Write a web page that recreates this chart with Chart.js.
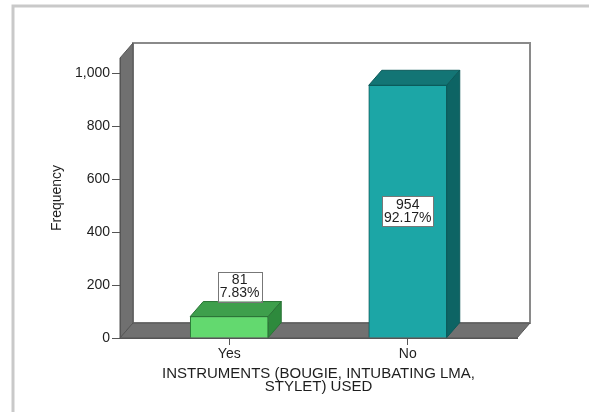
<!DOCTYPE html>
<html>
<head>
<meta charset="utf-8">
<script src="https://cdn.jsdelivr.net/npm/chart.js@4.4.1/dist/chart.umd.min.js"></script>
<style>
  html, body { margin: 0; padding: 0; background: #fff; }
  #wrap { position: relative; width: 589px; height: 412px; }
</style>
</head>
<body>
<div id="wrap"><canvas id="chart" width="589" height="412"></canvas></div>
<script>
const categories = ['Yes', 'No'];
const frequencies = [81, 954];
const yTicks = [0, 200, 400, 600, 800, 1000];

const frontColors = ['#63d96f', '#1ca6a6'];
const topColors = ['#3e9f4c', '#137575'];
const sideColors = ['#2e8a3d', '#0d6464'];
const edgeColors = ['#2a7436', '#0c5a5a'];

const total = frequencies.reduce((a, b) => a + b, 0);
const DX = 13, DY = 15;           // depth of the 3D extrusion
const FONT = '"Liberation Sans", Arial, sans-serif';
const TEXT = '#1e1e1e';

function poly(ctx, pts, fill, stroke) {
    ctx.beginPath();
    ctx.moveTo(pts[0][0], pts[0][1]);
    for (let i = 1; i < pts.length; i++) ctx.lineTo(pts[i][0], pts[i][1]);
    ctx.closePath();
    if (fill) { ctx.fillStyle = fill; ctx.fill(); }
    if (stroke) { ctx.strokeStyle = stroke; ctx.lineWidth = 1; ctx.stroke(); }
}

// frame, back wall, left wall and floor
const walls = {
    id: 'walls',
    beforeDraw(chart) {
        const { ctx, chartArea: a } = chart;
        ctx.save();
        ctx.strokeStyle = '#c9c9c9';
        ctx.lineWidth = 3;
        ctx.strokeRect(13, 6, 640, 460);

        ctx.fillStyle = '#fff';
        ctx.fillRect(a.left + DX, a.top - DY, a.width, a.height);
        ctx.strokeStyle = '#8a8a8a';
        ctx.lineWidth = 2;
        ctx.strokeRect(a.left + DX, a.top - DY, a.width, a.height);

        poly(ctx, [[a.left, a.top], [a.left + DX, a.top - DY], [a.left + DX, a.bottom - DY], [a.left, a.bottom]], '#707070', '#555');
        poly(ctx, [[a.left, a.bottom], [a.left + DX, a.bottom - DY], [a.right + DX, a.bottom - DY], [a.right, a.bottom]], '#717171', '#555');
        ctx.restore();
    }
};

// top and side faces of each bar, then the count / percent boxes
const bars3d = {
    id: 'bars3d',
    afterDatasetsDraw(chart) {
        const { ctx } = chart;
        const meta = chart.getDatasetMeta(0);
        ctx.save();
        meta.data.forEach((bar, i) => {
            const l = bar.x - bar.width / 2, r = bar.x + bar.width / 2;
            const t = bar.y, b = bar.base;
            poly(ctx, [[l, t], [l + DX, t - DY], [r + DX, t - DY], [r, t]], topColors[i], edgeColors[i]);
            poly(ctx, [[r, t], [r + DX, t - DY], [r + DX, b - DY], [r, b]], sideColors[i], edgeColors[i]);
        });

        ctx.font = '14px ' + FONT;
        ctx.textAlign = 'center';
        ctx.textBaseline = 'middle';
        const lineH = 13;
        meta.data.forEach((bar, i) => {
            const v = frequencies[i];
            const lines = [String(v), (v / total * 100).toFixed(2) + '%'];
            const w = Math.max(...lines.map(s => ctx.measureText(s).width)) + 4;
            const h = lines.length * lineH + 4;
            let cx = bar.x, cy = (bar.y + bar.base) / 2;
            if (bar.base - bar.y < h + 10) {
                cx = bar.x + DX * 0.8;
                cy = bar.y - DY - h / 2;
            }
            ctx.fillStyle = '#fff';
            ctx.fillRect(cx - w / 2, cy - h / 2, w, h);
            ctx.strokeStyle = '#777';
            ctx.lineWidth = 1;
            ctx.strokeRect(Math.round(cx - w / 2) + 0.5, Math.round(cy - h / 2) + 0.5, Math.round(w), Math.round(h));
            ctx.fillStyle = TEXT;
            lines.forEach((s, k) => ctx.fillText(s, cx, cy - h / 2 + 2.5 + lineH * (k + 0.5)));
        });
        ctx.restore();
    }
};

new Chart(document.getElementById('chart'), {
    type: 'bar',
    data: {
        datasets: [{
            data: frequencies.map((v, i) => ({ x: i, y: v })),
            backgroundColor: frontColors,
            borderColor: edgeColors,
            borderWidth: 1,
            barThickness: 78
        }]
    },
    options: {
        responsive: false,
        animation: false,
        locale: 'en-US',
        layout: { padding: { left: 12, top: 58, right: 72, bottom: 0 } },
        plugins: { legend: { display: false }, tooltip: { enabled: false } },
        scales: {
            x: {
                type: 'linear',
                min: -0.612,
                max: 1.612,
                offset: false,
                afterBuildTicks: s => { s.ticks = categories.map((_, i) => ({ value: i })); },
                afterFit: s => { s.height = 74; },
                ticks: {
                    callback: v => categories[v],
                    color: TEXT,
                    font: { family: FONT, size: 14 },
                    padding: 1
                },
                grid: { offset: false, drawOnChartArea: false, tickLength: 7, color: '#555' },
                border: { color: '#555' },
                title: {
                    display: true,
                    text: ['INSTRUMENTS (BOUGIE, INTUBATING LMA,', 'STYLET) USED'],
                    color: TEXT,
                    font: { family: FONT, size: 15, lineHeight: 0.9 },
                    padding: { top: 0, bottom: 18 }
                }
            },
            y: {
                min: 0,
                max: 1057,
                afterBuildTicks: s => { s.ticks = yTicks.map(v => ({ value: v })); },
                afterFit: s => { s.width = 108; },
                ticks: {
                    color: TEXT,
                    font: { family: FONT, size: 14 },
                    padding: 2
                },
                grid: { drawOnChartArea: false, tickLength: 8, color: '#555' },
                border: { color: '#555' },
                title: {
                    display: true,
                    text: 'Frequency',
                    color: TEXT,
                    font: { family: FONT, size: 14 },
                    padding: { top: 37, bottom: 0 }
                }
            }
        }
    },
    plugins: [walls, bars3d]
});
</script>
</body>
</html>
